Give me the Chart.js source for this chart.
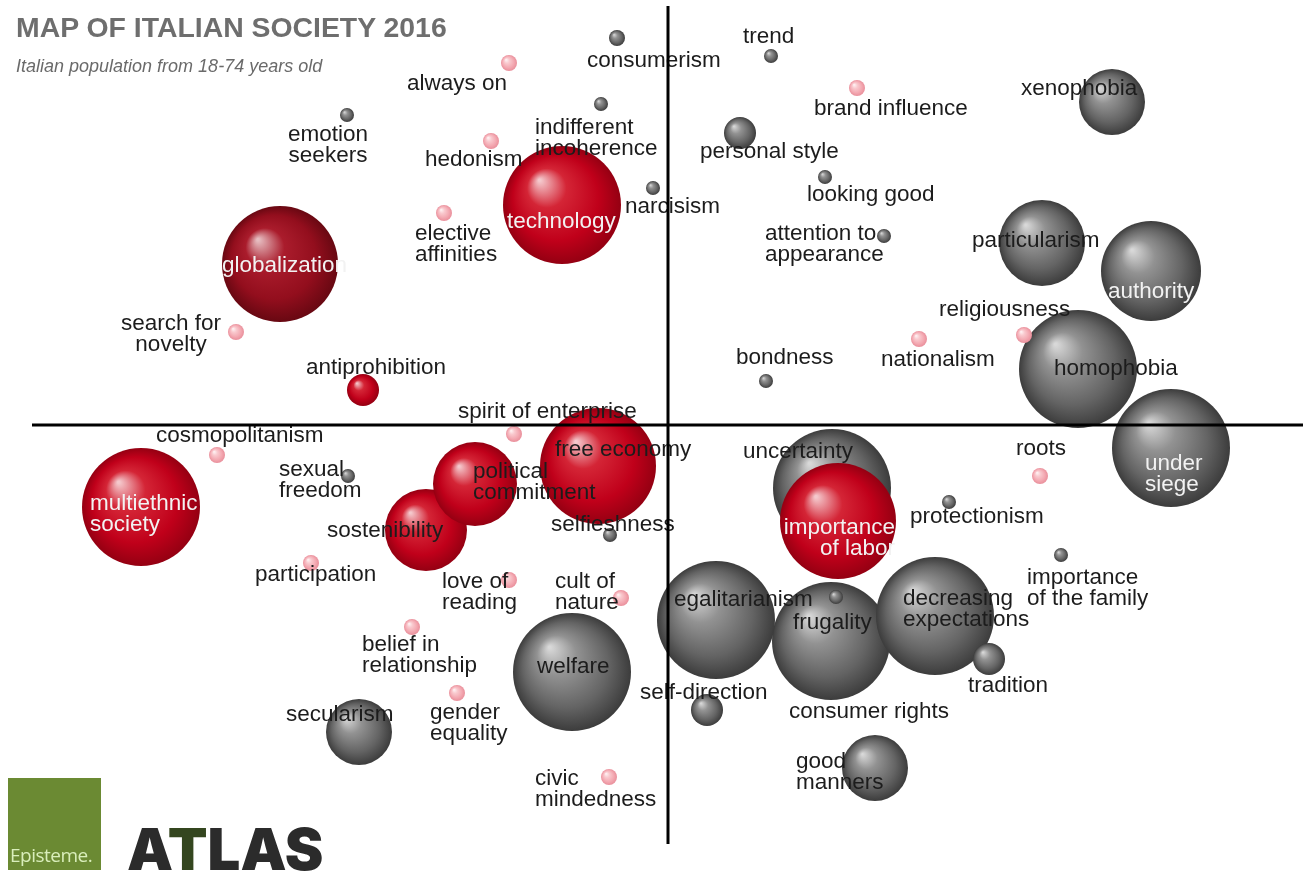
<!DOCTYPE html>
<html>
<head>
<meta charset="utf-8">
<title>Map of Italian Society 2016</title>
<script src="https://cdn.jsdelivr.net/npm/chart.js@4.4.1/dist/chart.umd.min.js"></script>
<style>
  html, body { margin: 0; padding: 0; background: #fff; }
  #wrap { position: relative; width: 1303px; height: 873px; overflow: hidden; }
  #map { position: absolute; left: 0; top: 0; }
  .title { position: absolute; left: 16px; top: 11px; font: bold 28.4px "Liberation Sans", Arial, sans-serif; color: #6e6e6e; }
  .subtitle { position: absolute; left: 16px; top: 56px; font: italic 18px "Liberation Sans", Arial, sans-serif; color: #6a6a6a; }
  .logo-box { position: absolute; left: 8px; top: 778px; width: 93px; height: 92px; background: #6b8a33; }
  .logo-box span { position: absolute; left: 2px; bottom: 2px; font: 19px "Open Sans", sans-serif; color: #d9eebb; letter-spacing: -0.5px; }
  .atlas { position: absolute; left: 127px; top: 820px; font: 900 58px "Inter", "Roboto", sans-serif; color: #2b2b2b; letter-spacing: 0; line-height: 1; }
  .atlas b { color: #34461f; font-weight: 900; }
</style>
</head>
<body>
<div id="wrap">
  <canvas id="map" width="1303" height="873"></canvas>
  <div class="title">MAP OF ITALIAN SOCIETY 2016</div>
  <div class="subtitle">Italian population from 18-74 years old</div>
  <div class="logo-box"><span>Episteme.</span></div>
  <div class="atlas">A<b>T</b>LAS</div>
</div>
<script>
  "use strict";

  // ---- Data ----------------------------------------------------------
  // Map units: origin at the crosshair. Each row = [label, x, y, size].

  const grayLarge = [
    ['consumer rights', 16.3, -21.6, 59],
    ['egalitarianism', 4.8, -19.5, 59],
    ['decreasing\nexpectations', 26.7, -19.1, 59],
    ['welfare', -9.6, -24.7, 59],
    ['uncertainty', 16.4, -6.3, 59],
    ['homophobia', 41.0, 5.6, 59],
    ['under\nsiege', 50.3, -2.3, 59],
    ['authority', 48.3, 15.4, 50],
    ['particularism', 37.4, 18.2, 43],
    ['xenophobia', 44.4, 32.3, 33],
    ['good\nmanners', 20.7, -34.3, 33],
    ['secularism', -30.9, -30.7, 33],
  ];

  const redLarge = [
    ['technology', -10.6, 22.0, 59],
    ['globalization', -38.8, 16.1, 58],
    ['multiethnic\nsociety', -52.7, -8.2, 59],
    ['free economy', -7.0, -4.1, 58],
    ['sostenibility', -24.2, -10.5, 41],
    ['political\ncommitment', -19.3, -5.9, 42],
    ['importance\nof labor', 17.0, -9.6, 58],
    ['antiprohibition', -30.5, 3.5, 16],
  ];

  const graySmall = [
    ['personal style', 7.2, 29.2, 16],
    ['tradition', 32.1, -23.4, 16],
    ['self-direction', 3.9, -28.5, 16],
    ['consumerism', -5.1, 38.7, 8],
    ['trend', 10.3, 36.9, 7],
    ['emotion\nseekers', -32.1, 31.0, 7],
    ['indifferent\nincoherence', -6.7, 32.1, 7],
    ['narcisism', -1.5, 23.7, 7],
    ['looking good', 15.7, 24.8, 7],
    ['attention to\nappearance', 21.6, 18.9, 7],
    ['bondness', 9.8, 4.4, 7],
    ['protectionism', 28.1, -7.7, 7],
    ['importance\nof the family', 39.3, -13.0, 7],
    ['sexual\nfreedom', -32.0, -5.1, 7],
    ['selfieshness', -5.8, -11.0, 7],
    ['frugality', 16.8, -17.2, 7],
  ];

  const pinkSmall = [
    ['always on', -15.9, 36.2, 8],
    ['hedonism', -17.7, 28.4, 8],
    ['elective\naffinities', -22.4, 21.2, 8],
    ['search for\nnovelty', -43.2, 9.3, 8],
    ['brand influence', 18.9, 33.7, 8],
    ['religiousness', 35.6, 9.0, 8],
    ['nationalism', 25.1, 8.6, 8],
    ['spirit of enterprise', -15.4, -0.9, 8],
    ['cosmopolitanism', -45.1, -3.0, 8],
    ['participation', -35.7, -13.8, 8],
    ['love of\nreading', -15.9, -15.5, 8],
    ['cult of\nnature', -4.7, -17.3, 8],
    ['belief in\nrelationship', -25.6, -20.2, 8],
    ['gender\nequality', -21.1, -26.8, 8],
    ['roots', 37.2, -5.1, 8],
    ['civic\nmindedness', -5.9, -35.2, 8],
  ];

  // Axis extents (map units)
  const X_MIN = -66.8, X_MAX = 63.5, Y_MIN = -44.8, Y_MAX = 42.5;
  const AXIS_X_HALF = 63.6, AXIS_Y_HALF = 41.9;

  // ---- Label layout (pixels relative to bubble centre) ---------------
  // [dx, dy of first line middle, align]
  const labelLayout = {
    'consumer rights': [-42, 69, 'left'],
    'egalitarianism': [-42, -22, 'left'],
    'decreasing\nexpectations': [-32, -19, 'left'],
    'welfare': [-35, -7, 'left'],
    'uncertainty': [-89, -38, 'left'],
    'homophobia': [-24, -2, 'left'],
    'under\nsiege': [-26, 14, 'left'],
    'authority': [-43, 19, 'left'],
    'particularism': [-70, -4, 'left'],
    'xenophobia': [-91, -15, 'left'],
    'good\nmanners': [-79, -8, 'left'],
    'secularism': [-73, -19, 'left'],
    'technology': [-55, 15, 'left'],
    'globalization': [-58, 0, 'left'],
    'multiethnic\nsociety': [-51, -5, 'left'],
    'free economy': [-43, -18, 'left'],
    'sostenibility': [-99, -1, 'left'],
    'political\ncommitment': [-2, -14, 'left'],
    'importance\nof labor': [57, 5, 'right'],
    'antiprohibition': [-57, -24, 'left'],
    'personal style': [-40, 17, 'left'],
    'tradition': [-21, 25, 'left'],
    'self-direction': [-67, -19, 'left'],
    'consumerism': [-30, 21, 'left'],
    'trend': [-28, -21, 'left'],
    'emotion\nseekers': [-19, 18, 'center'],
    'indifferent\nincoherence': [-66, 22, 'left'],
    'narcisism': [-28, 17, 'left'],
    'looking good': [-18, 16, 'left'],
    'attention to\nappearance': [-119, -4, 'left'],
    'bondness': [-30, -25, 'left'],
    'protectionism': [-39, 13, 'left'],
    'importance\nof the family': [-34, 21, 'left'],
    'sexual\nfreedom': [-69, -8, 'left'],
    'selfieshness': [-59, -12, 'left'],
    'frugality': [-43, 24, 'left'],
    'always on': [-102, 19, 'left'],
    'hedonism': [-66, 17, 'left'],
    'elective\naffinities': [-29, 19, 'left'],
    'search for\nnovelty': [-65, -10, 'center'],
    'brand influence': [-43, 19, 'left'],
    'religiousness': [-85, -27, 'left'],
    'nationalism': [-38, 19, 'left'],
    'spirit of enterprise': [-56, -24, 'left'],
    'cosmopolitanism': [-61, -21, 'left'],
    'participation': [-56, 10, 'left'],
    'love of\nreading': [-67, 0, 'left'],
    'cult of\nnature': [-66, -18, 'left'],
    'belief in\nrelationship': [-50, 16, 'left'],
    'gender\nequality': [-27, 18, 'left'],
    'roots': [-24, -29, 'left'],
    'civic\nmindedness': [-74, 0, 'left'],
  };
  const whiteLabels = ['authority', 'under\nsiege', 'technology', 'globalization',
    'multiethnic\nsociety', 'importance\nof labor'];

  // ---- Sphere shading ------------------------------------------------
  const TONES = {
    gray: ['#d8d8d8', '#929292', '#646464', '#3c3c3c'],
    red: ['#f4c8cc', '#d42536', '#c0001a', '#940012'],
    darkRed: ['#e6bcc0', '#aa1c2c', '#930e1d', '#680812'],
    pink: ['#fff4f5', '#f9c9ce', '#f3a8b1', '#e98f9b'],
  };
  const toneOverride = { 'globalization': 'darkRed' };

  function sphere(tone) {
    return function (context) {
      const t = TONES[(context.raw && toneOverride[context.raw.label]) || tone];
      if (context.type !== 'data') return t[2];
      const chart = context.chart;
      const raw = context.raw;
      const px = chart.scales.x.getPixelForValue(raw.x);
      const py = chart.scales.y.getPixelForValue(raw.y);
      const r = raw.r;
      // scales are not laid out yet during the initial reset pass
      if (!Number.isFinite(px) || !Number.isFinite(py)) return t[2];
      const g = chart.ctx.createRadialGradient(px - r * 0.38, py - r * 0.42, r * 0.02, px, py, r);
      g.addColorStop(0, t[0]);
      g.addColorStop(0.32, t[1]);
      g.addColorStop(0.72, t[2]);
      g.addColorStop(1, t[3]);
      return g;
    };
  }

  function toPoints(rows) {
    return rows.map(([label, x, y, r]) => ({ label, x, y, r }));
  }

  // ---- Plugins ---------------------------------------------------------
  const labelsPlugin = {
    id: 'mapLabels',
    afterDatasetsDraw(chart) {
      const ctx = chart.ctx;
      ctx.save();
      ctx.font = '22.5px "Liberation Sans", Arial, sans-serif';
      ctx.textBaseline = 'middle';
      chart.data.datasets.forEach((ds, di) => {
        const meta = chart.getDatasetMeta(di);
        meta.data.forEach((el, i) => {
          const label = ds.data[i].label;
          const lay = labelLayout[label] || [0, 0, 'center'];
          ctx.fillStyle = whiteLabels.includes(label) ? '#f2f2f2' : '#1c1c1c';
          ctx.textAlign = lay[2];
          label.split('\n').forEach((line, li) => {
            // +2: 'middle' sits a little above the x-height centre
            ctx.fillText(line, el.x + lay[0], el.y + lay[1] + 2 + li * 21);
          });
        });
      });
      ctx.restore();

      // crosshair on top
      const xs = chart.scales.x, ys = chart.scales.y;
      ctx.save();
      ctx.strokeStyle = '#000';
      ctx.lineWidth = 3;
      ctx.beginPath();
      ctx.moveTo(xs.getPixelForValue(0), ys.getPixelForValue(AXIS_Y_HALF));
      ctx.lineTo(xs.getPixelForValue(0), ys.getPixelForValue(-AXIS_Y_HALF));
      ctx.moveTo(xs.getPixelForValue(-AXIS_X_HALF), ys.getPixelForValue(0));
      ctx.lineTo(xs.getPixelForValue(AXIS_X_HALF), ys.getPixelForValue(0));
      ctx.stroke();
      ctx.restore();
    },
  };

  // Dataset 0 is drawn on top in Chart.js.
  new Chart(document.getElementById('map'), {
    type: 'bubble',
    data: {
      datasets: [
        { label: 'pink', data: toPoints(pinkSmall), backgroundColor: sphere('pink'), borderWidth: 0 },
        { label: 'gray small', data: toPoints(graySmall), backgroundColor: sphere('gray'), borderWidth: 0 },
        { label: 'red', data: toPoints(redLarge), backgroundColor: sphere('red'), borderWidth: 0 },
        { label: 'gray large', data: toPoints(grayLarge), backgroundColor: sphere('gray'), borderWidth: 0 },
      ],
    },
    options: {
      responsive: false,
      animation: false,
      events: [],
      // bubbles would otherwise shrink the plot area to fit their radii
      layout: { padding: 0, autoPadding: false },
      plugins: { legend: { display: false }, tooltip: { enabled: false } },
      scales: {
        x: { type: 'linear', min: X_MIN, max: X_MAX, display: false },
        y: { type: 'linear', min: Y_MIN, max: Y_MAX, display: false },
      },
    },
    plugins: [labelsPlugin],
  });
</script>
</body>
</html>
